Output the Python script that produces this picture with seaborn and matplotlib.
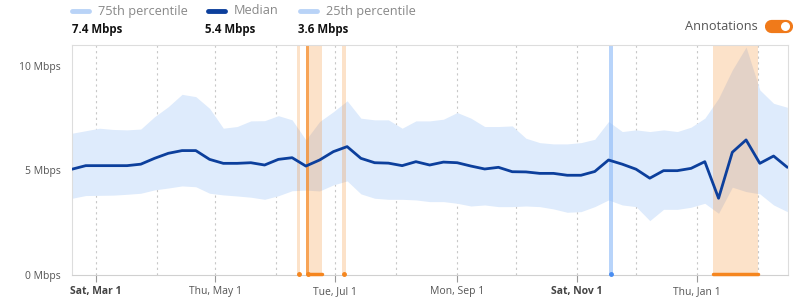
import numpy as np
import pandas as pd
import matplotlib
matplotlib.use("Agg")
import matplotlib.pyplot as plt
from matplotlib.lines import Line2D
import seaborn as sns

# ---------------- data ----------------
start_date = "2025-02-17"
median = [5.06, 5.23, 5.23, 5.23, 5.23, 5.30, 5.58, 5.82, 5.95, 5.95,
          5.53, 5.34, 5.34, 5.37, 5.26, 5.53, 5.61, 5.21, 5.50, 5.90,
          6.14, 5.58, 5.37, 5.35, 5.23, 5.42, 5.26, 5.40, 5.37, 5.21,
          5.07, 5.15, 4.94, 4.93, 4.86, 4.86, 4.77, 4.77, 4.95, 5.50,
          5.30, 5.06, 4.63, 4.99, 4.99, 5.10, 5.42, 3.67, 5.87, 6.46,
          5.34, 5.69, 5.15]
p75 = [6.78, 6.90, 7.02, 6.96, 6.94, 6.98, 7.57, 8.05, 8.64, 8.53,
       7.97, 7.02, 7.10, 7.37, 7.38, 7.62, 7.42, 6.46, 7.34, 7.81,
       8.33, 7.50, 7.42, 7.42, 7.02, 7.37, 7.37, 7.45, 7.77, 7.50,
       7.10, 7.10, 7.13, 6.54, 6.33, 6.27, 6.27, 6.33, 6.49, 7.34,
       6.86, 6.94, 6.86, 6.94, 6.86, 7.07, 7.50, 8.45, 9.81, 10.9,
       8.85, 8.21, 8.02]
p25 = [3.67, 3.80, 3.81, 3.82, 3.86, 3.91, 4.07, 4.16, 4.26, 4.22,
       3.91, 3.83, 3.78, 3.72, 3.62, 3.79, 4.03, 4.06, 4.02, 4.31,
       4.50, 3.88, 3.67, 3.62, 3.62, 3.59, 3.51, 3.51, 3.43, 3.30,
       3.35, 3.27, 3.27, 3.30, 3.27, 3.16, 3.00, 3.03, 3.27, 3.59,
       3.35, 3.27, 2.60, 3.14, 3.14, 3.24, 3.43, 2.95, 4.20, 3.99,
       3.88, 3.35, 3.03]

legend_names = ["75th percentile", "Median", "25th percentile"]
legend_values = ["7.4 Mbps", "5.4 Mbps", "3.6 Mbps"]

yticks = [0, 5, 10]
ytick_labels = ["0 Mbps", "5 Mbps", "10 Mbps"]
xtick_dates = ["2025-03-01", "2025-05-01", "2025-07-01", "2025-09-01", "2025-11-01", "2026-01-01"]
xtick_labels = ["Sat, Mar 1", "Thu, May 1", "Tue, Jul 1", "Mon, Sep 1", "Sat, Nov 1", "Thu, Jan 1"]
xtick_bold = [True, False, False, False, True, False]

# annotations
ann_start = ["2025-06-11 12:00", "2025-06-16", "2025-06-17 16:00", "2025-07-04 12:00", "2025-11-17 12:00", "2026-01-09"]
ann_end   = ["2025-06-13 06:00", "2025-06-17 16:00", "2025-06-24", "2025-07-06 12:00", "2025-11-19 06:00", "2026-02-01"]
ann_kind  = ["light", "dark", "light", "light", "blue", "light"]

# ---------------- figure ----------------
sns.set_theme(style="white")
plt.rcParams["font.family"] = ["Open Sans", "DejaVu Sans"]

fig = plt.figure(figsize=(8, 3.06), dpi=100)
ax = fig.add_axes([72/800, 1-275/306, (788-72)/800, (275-45)/306])

dates = pd.date_range(start_date, periods=len(median), freq="7D")
df = pd.DataFrame({"date": dates, "median": median, "p75": p75, "p25": p25})

LINE = "#0c3f9c"
BAND = "#deebfc"
ORANGE = "#f5861f"

ax.fill_between(df["date"], df["p25"], df["p75"], color=BAND, lw=0, zorder=1)

for s, e, k in zip(ann_start, ann_end, ann_kind):
    s0, e0 = pd.Timestamp(s), pd.Timestamp(e)
    if k == "light":
        ax.axvspan(s0, e0, color=ORANGE, alpha=0.24, lw=0, zorder=2)
    elif k == "dark":
        ax.axvspan(s0, e0, color=ORANGE, alpha=0.75, lw=0, zorder=2)
    else:
        ax.axvspan(s0, e0, color="#8ab8f7", alpha=0.6, lw=0, zorder=2)
    dur = (e0 - s0).days
    col = "#4a8ef2" if k == "blue" else ORANGE
    if dur >= 3:
        ax.plot([s0, e0], [0.05, 0.05], color=col, lw=2.5, solid_capstyle="round",
                zorder=6, clip_on=False)
    else:
        ax.plot([s0 + (e0 - s0) / 2], [0.05], marker="o", ms=2.5, color=col,
                zorder=6, clip_on=False)

sns.lineplot(data=df, x="date", y="median", color=LINE, lw=2.0, ax=ax, zorder=5)

# monthly dotted gridlines
months = pd.date_range("2025-03-01", "2026-02-01", freq="MS")
for m in months:
    ax.axvline(m, color="#c8c8c8", lw=0.8, ls=(0, (2, 3)), zorder=0.5)

ax.set_xlim(pd.Timestamp("2025-02-17"), pd.Timestamp("2026-02-16 08:00"))
ax.set_ylim(0, 11.0)
ax.set_xlabel("")
ax.set_ylabel("")

ax.set_yticks(yticks)
ax.set_yticklabels(ytick_labels, fontsize=7.5, color="#555555")
ax.set_xticks([pd.Timestamp(d) for d in xtick_dates])
ax.set_xticklabels(xtick_labels, fontsize=7.5, color="#555555")
for lab, b in zip(ax.get_xticklabels(), xtick_bold):
    if b:
        lab.set_fontweight("bold")
        lab.set_color("#444444")
ax.tick_params(axis="x", length=5, width=0.8, color="#999999", pad=3, bottom=True)
ax.tick_params(axis="y", length=0, pad=8)

for sp in ax.spines.values():
    sp.set_color("#dddddd")
    sp.set_linewidth(0.8)
ax.spines["bottom"].set_color("#d0d0d0")

# ---------------- legend (header) ----------------
leg_x = [72, 208, 300]
leg_val_x = [72, 205, 298]
leg_cols = ["#b9d3f7", LINE, "#b9d3f7"]
for name, val, x0, xv, c in zip(legend_names, legend_values, leg_x, leg_val_x, leg_cols):
    fig.add_artist(Line2D([x0/800, (x0+17)/800], [1-11/306, 1-11/306], color=c, lw=3.5,
                          solid_capstyle="round", transform=fig.transFigure))
    fig.text((x0+26)/800, 1-11/306, name, fontsize=9.2, color="#888888", va="center", ha="left")
    fig.text(xv/800, 1-29/306, val, fontsize=8.3, color="#111111", fontweight="bold",
             va="center", ha="left")

# annotations toggle
fig.text(758/800, 1-26/306, "Annotations", fontsize=9.2, color="#555555", va="center", ha="right")
fig.add_artist(Line2D([771/800, 786/800], [1-26/306, 1-26/306], color="#f07a1a", lw=9.5,
                      solid_capstyle="round", transform=fig.transFigure, zorder=3))
fig.add_artist(Line2D([785/800], [1-26/306], marker="o", ms=6.5, color="white",
                      markeredgewidth=0, linestyle="none", transform=fig.transFigure, zorder=4))

fig.savefig("out.png", dpi=100)
